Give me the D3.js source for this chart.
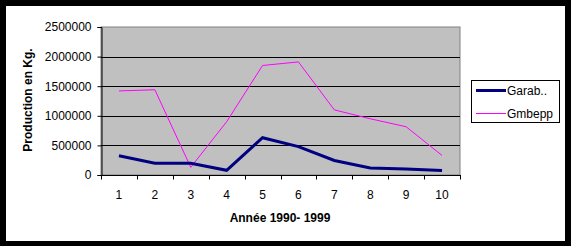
<!DOCTYPE html>
<meta charset='utf-8'>
<style>
	body { margin: 0; background: #000; }
	text { font-family: Arial, "Liberation Sans", sans-serif; }
</style>
<div class="chart"></div>
<script src="https://d3js.org/d3.v7.min.js"></script>
<script>
	// values
	var years = ["1", "2", "3", "4", "5", "6", "7", "8", "9", "10"];
	var garab = [325000, 200000, 200000, 80000, 630000, 480000, 245000, 120000, 100000, 75000];
	var gmbepp = [1420000, 1440000, 130000, 900000, 1850000, 1910000, 1100000, 950000, 815000, 330000];
	var yTicks = [0, 500000, 1000000, 1500000, 2000000, 2500000];
	var seriesNames = ["Garab..", "Gmbepp"];

	var width = 571, height = 246;
	var svg = d3.select(".chart").append("svg")
		.attr("width", width)
		.attr("height", height)
		.style("display", "block");

	svg.append("rect").attr("width", width).attr("height", height).attr("fill", "#000");
	svg.append("rect").attr("x", 6).attr("y", 6).attr("width", 559).attr("height", 235).attr("fill", "#fff");

	var plot = {left: 101, top: 27, right: 460, bottom: 175};

	var x = d3.scaleBand().domain(years).range([plot.left, plot.right]);
	var y = d3.scaleLinear().domain([0, 2500000]).range([plot.bottom, plot.top]);

	svg.append("rect")
		.attr("x", plot.left).attr("y", plot.top)
		.attr("width", plot.right - plot.left).attr("height", plot.bottom - plot.top)
		.attr("fill", "#c0c0c0").attr("stroke", "#808080");

	// gridlines
	svg.append("g").selectAll("line")
		.data(yTicks.slice(1, -1))
		.enter().append("line")
		.attr("x1", plot.left).attr("x2", plot.right)
		.attr("y1", function(d) { return Math.round(y(d)) + 0.5; })
		.attr("y2", function(d) { return Math.round(y(d)) + 0.5; })
		.attr("stroke", "#000");

	// y axis
	var yAxis = svg.append("g")
		.attr("transform", "translate(" + (plot.left + 0.5) + ",0)")
		.call(d3.axisLeft(y).tickValues(yTicks).tickFormat(d3.format("d")).tickSize(4).tickPadding(6));
	yAxis.select(".domain").attr("stroke", "#000");
	yAxis.selectAll("text").style("font-size", "12px").attr("fill", "#000");

	// x axis: ticks at band edges
	var xAxis = svg.append("g").attr("transform", "translate(0," + (plot.bottom + 0.5) + ")");
	xAxis.append("line").attr("x1", plot.left).attr("x2", plot.right + 1).attr("stroke", "#000");
	var edges = years.map(function(d) { return x(d); }).concat([plot.right]);
	xAxis.selectAll(".tk").data(edges).enter().append("line")
		.attr("x1", function(d) { return Math.round(d) + 0.5; })
		.attr("x2", function(d) { return Math.round(d) + 0.5; })
		.attr("y1", 0).attr("y2", 4).attr("stroke", "#000");
	xAxis.selectAll(".lb").data(years).enter().append("text")
		.attr("x", function(d) { return x(d) + x.bandwidth() / 2; })
		.attr("y", 23)
		.attr("text-anchor", "middle")
		.style("font-size", "12px")
		.text(function(d) { return d; });

	// lines
	var line = d3.line()
		.x(function(d, i) { return x(years[i]) + x.bandwidth() / 2; })
		.y(function(d) { return y(d); });

	svg.append("path").datum(gmbepp)
		.attr("d", line).attr("fill", "none")
		.attr("stroke", "#ff00ff").attr("stroke-width", 1);
	svg.append("path").datum(garab)
		.attr("d", line).attr("fill", "none")
		.attr("stroke", "#000080").attr("stroke-width", 3);

	// axis titles
	svg.append("text")
		.attr("transform", "translate(32,100) rotate(-90)")
		.attr("text-anchor", "middle")
		.style("font-size", "12px").style("font-weight", "bold")
		.text("Production en Kg.");
	svg.append("text")
		.attr("x", 280).attr("y", 222)
		.attr("text-anchor", "middle")
		.style("font-size", "12px").style("font-weight", "bold")
		.text("Année 1990- 1999");

	// legend
	var legend = svg.append("g");
	legend.append("rect")
		.attr("x", 471.5).attr("y", 80.5).attr("width", 88).attr("height", 42)
		.attr("fill", "#fff").attr("stroke", "#000");
	var colors = ["#000080", "#ff00ff"], widths = [3, 1], ly = [90.5, 113.5];
	seriesNames.forEach(function(name, i) {
		legend.append("line")
			.attr("x1", 476).attr("x2", 506)
			.attr("y1", ly[i]).attr("y2", ly[i])
			.attr("stroke", colors[i]).attr("stroke-width", widths[i]);
		legend.append("text")
			.attr("x", 507).attr("y", ly[i] + 4.5)
			.style("font-size", "12px")
			.text(name);
	});
</script>
